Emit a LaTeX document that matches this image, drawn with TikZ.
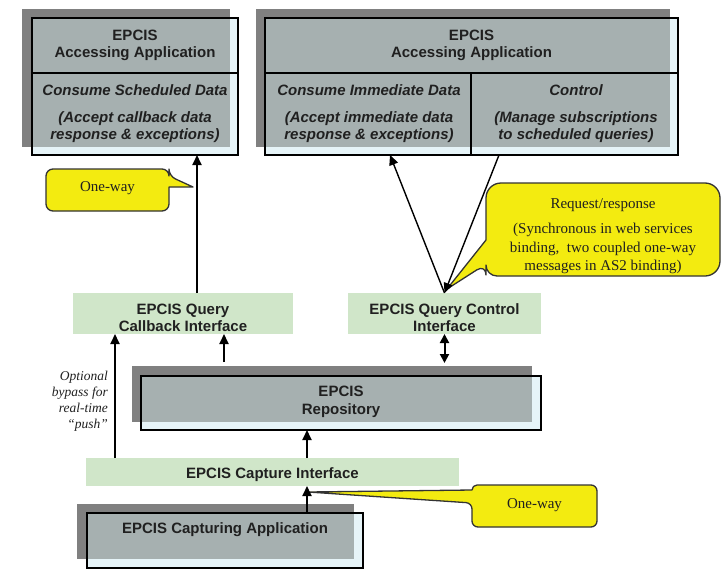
\documentclass[tikz,border=0pt]{standalone}
\usepackage{fontspec}
\setmainfont{Liberation Serif}
\setsansfont{Liberation Sans}
\usetikzlibrary{arrows.meta,calc}
\definecolor{shadowgray}{HTML}{808080}
\definecolor{overlapgray}{HTML}{A6B0B0}
\definecolor{boxblue}{HTML}{E6F4F8}
\definecolor{ifgreen}{HTML}{D0E6C9}
\definecolor{calloutyellow}{HTML}{F3EB10}
\definecolor{txt}{HTML}{202020}
\definecolor{calloutline}{HTML}{333333}
\tikzset{
  appbox/.style={rectangle, fill=boxblue, inner sep=0pt, outer sep=0pt},
  ifbox/.style={rectangle, fill=ifgreen, inner sep=0pt, outer sep=0pt},
  hd/.style={font=\sffamily\bfseries\fontsize{15}{17}\selectfont, text=txt, inner sep=0pt, anchor=base},
  itl/.style={font=\sffamily\bfseries\itshape\fontsize{15}{17}\selectfont, text=txt, inner sep=0pt, anchor=base},
  co/.style={font=\rmfamily\fontsize{15}{18}\selectfont, text=txt, inner sep=0pt, anchor=base},
  by/.style={font=\rmfamily\itshape\fontsize{13.5}{16}\selectfont, text=txt, inner sep=0pt, anchor=base east},
  calloutshape/.style={fill=calloutyellow, draw=calloutline, line width=1.3pt, line join=round},
  arr/.style={line width=2pt, -{Triangle[length=10pt,width=9pt]}},
  thinarr/.style={line width=1.4pt, -{Triangle[length=10pt,width=9pt]}},
  dblarr/.style={line width=2pt, {Triangle[length=9pt,width=9pt]}-{Triangle[length=9pt,width=9pt]}},
  border/.style={draw=black, line width=1.2pt}
}
\begin{document}
\begin{tikzpicture}[x=1pt,y=-1pt]
\useasboundingbox (0,0) rectangle (725,570);

% ---------- top left application ----------
\node[appbox, minimum width=206pt, minimum height=137pt] (app1) at (135,86.5) {};
\fill[shadowgray] (22,9) rectangle (230,147);
\fill[overlapgray] (32,18) rectangle (230,147);
\draw[border] (app1.north west) rectangle (app1.south east);
\draw[border] (32,73) -- (238,73);
\node[hd] (a1l1) at (135,40) {EPCIS};
\node[hd] (a1l2) at (135,57) {Accessing Application};
\node[itl] (a1l3) at (135,95) {Consume Scheduled Data};
\node[itl] (a1l4) at (135,122) {(Accept callback data};
\node[itl] (a1l5) at (135,139) {response \& exceptions)};

% ---------- top right application ----------
\node[appbox, minimum width=413pt, minimum height=137pt] (app2) at (471.5,86.5) {};
\fill[shadowgray] (256,9) rectangle (670,147);
\fill[overlapgray] (265,18) rectangle (670,147);
\draw[border] (app2.north west) rectangle (app2.south east);
\draw[border] (265,73) -- (678,73);
\draw[border] (471,73) -- (471,155);
\node[hd] (a2l1) at (471.5,40) {EPCIS};
\node[hd] (a2l2) at (471.5,57) {Accessing Application};
\node[itl] (a2l3) at (369,95) {Consume Immediate Data};
\node[itl] (a2l4) at (369,122) {(Accept immediate data};
\node[itl] (a2l5) at (369,139) {response \& exceptions)};
\node[itl] (a2l6) at (576,95) {Control};
\node[itl] (a2l7) at (576,122) {(Manage subscriptions};
\node[itl] (a2l8) at (576,139) {to scheduled queries)};

% ---------- interfaces ----------
\node[ifbox, minimum width=220pt, minimum height=41pt] (cbif) at (183,313.5) {};
\node[hd] (cbl1) at (183,314) {EPCIS Query};
\node[hd] (cbl2) at (183,331) {Callback Interface};

\node[ifbox, minimum width=193pt, minimum height=41pt] (ctlif) at (444.5,313.5) {};
\node[hd] (ctl1) at (444.5,314) {EPCIS Query Control};
\node[hd] (ctl2) at (444.5,331) {Interface};

% ---------- repository ----------
\node[appbox, minimum width=400pt, minimum height=54pt] (repo) at (341,403) {};
\fill[shadowgray] (132,366) rectangle (532,422);
\fill[overlapgray] (141,376) rectangle (532,422);
\draw[border] (repo.north west) rectangle (repo.south east);
\node[hd] (rpl1) at (341,396.5) {EPCIS};
\node[hd] (rpl2) at (341,414.5) {Repository};

% ---------- capture interface ----------
\node[ifbox, minimum width=373pt, minimum height=28pt] (capif) at (272.5,472) {};
\node[hd] (cil1) at (272.5,478.5) {EPCIS Capture Interface};

% ---------- capturing application ----------
\node[appbox, minimum width=276pt, minimum height=55pt] (capapp) at (225,540.5) {};
\fill[shadowgray] (77,504) rectangle (354,559);
\fill[overlapgray] (87,513) rectangle (354,559);
\draw[border] (capapp.north west) rectangle (capapp.south east);
\node[hd] (cal1) at (225,533.5) {EPCIS Capturing Application};

% ---------- callouts ----------
\draw[calloutshape] (107,169) [rounded corners=7pt] -- (169,169) -- (169,176) [sharp corners] -- (193,187) -- (169,187) [rounded corners=7pt] -- (169,211) -- (46,211) -- (46,169) -- cycle;
\node[co] (ow1) at (107.5,191) {One-way};

\draw[calloutshape] (603,183) [rounded corners=15pt] -- (720,183) -- (720,276) [rounded corners=11pt] -- (486,276) -- (486,264) [sharp corners] -- (447,289) -- (486,240) [rounded corners=15pt] -- (486,183) -- cycle;
\node[co] (rr1) at (603,208) {Request/response};
\node[co] (rr2) at (603,233.5) {(Synchronous in web services};
\node[co] (rr3) at (603,252) {binding,\ \ two coupled one-way};
\node[co] (rr4) at (603,270) {messages in AS2 binding)};

\draw[calloutshape] (534,485) [rounded corners=6pt] -- (597,485) -- (597,527) -- (472,527) -- (472,503) [sharp corners] -- (308,492) -- (472,490) [rounded corners=5pt] -- (472,485) -- cycle;
\node[co] (ow2) at (534.5,508) {One-way};

% ---------- bypass label ----------
\node[by] (bp1) at (108,380) {Optional};
\node[by] (bp2) at (108,396) {bypass for};
\node[by] (bp3) at (108,412) {real-time};
\node[by] (bp4) at (108,428) {\char"201C push\char"201D};

% ---------- connectors ----------
\coordinate (xA) at (307,0);
\coordinate (xB) at (115,0);
\coordinate (xC) at (224,0);
\coordinate (xD) at (197,0);
\coordinate (xE) at (390,0);
\coordinate (xF) at (499,0);

\draw[arr] (capapp.north -| xA) -- (capif.south -| xA);
\draw[arr] (capif.north -| xA) -- (repo.south -| xA);
\draw[arr] (capif.north -| xB) -- (cbif.south -| xB);
\draw[arr] ($(repo.north -| xC)+(0,-14)$) -- (cbif.south -| xC);
\draw[dblarr] (ctlif.south) -- ($(repo.north -| ctlif.south)+(0,-13)$);
\draw[arr] (cbif.north -| xD) -- (app1.south -| xD);
\draw[thinarr] (ctlif.north) -- (app2.south -| xE);
\draw[thinarr] (app2.south -| xF) -- (ctlif.north);
\end{tikzpicture}
\end{document}
